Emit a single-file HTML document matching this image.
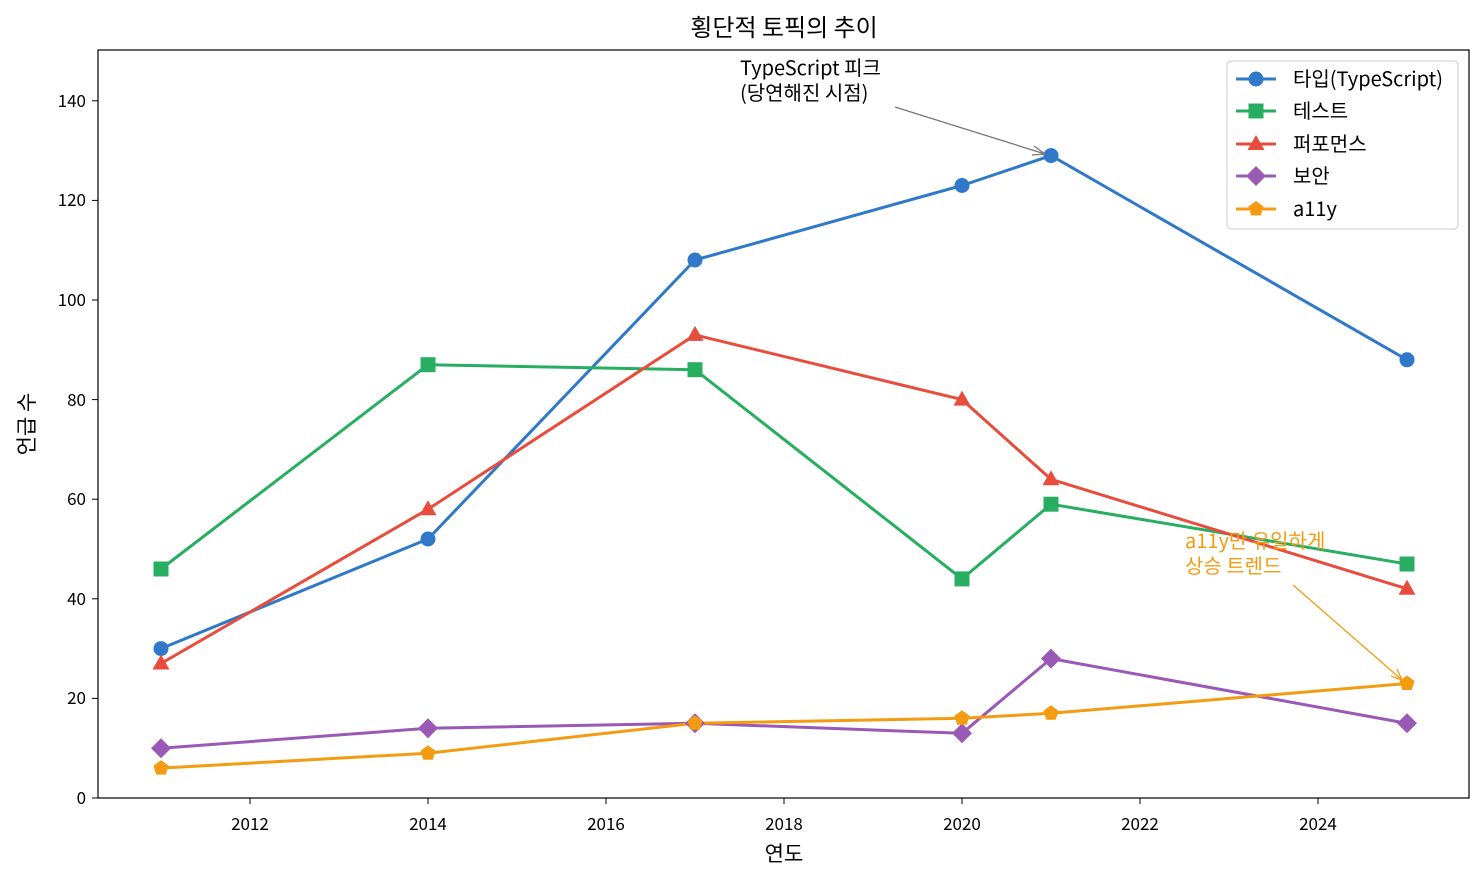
<!DOCTYPE html>
<html><head><meta charset="utf-8"><style>
body{margin:0;background:#fff}
svg text{font-family:"Noto Sans CJK KR","Liberation Sans",sans-serif}
</style></head><body>
<svg width="1484" height="884" xmlns="http://www.w3.org/2000/svg">
<defs>
<g id="mc"><circle r="7.5"/></g>
<g id="ms"><rect x="-7.5" y="-7.5" width="15" height="15"/></g>
<g id="mt"><polygon points="0,-9 8.5,6 -8.5,6"/></g>
<g id="md"><polygon points="0,-10 10,0 0,10 -10,0"/></g>
<g id="mp"><polygon points="0,-8 7.6,-2.5 4.7,6.5 -4.7,6.5 -7.6,-2.5"/></g>
</defs>
<rect x="98" y="50" width="1371" height="748" fill="none" stroke="#000" stroke-width="1.2"/>
<text x="784" y="36" font-size="24" text-anchor="middle">횡단적 토픽의 추이</text>
<g font-size="17" text-anchor="middle">
<line x1="250" y1="798" x2="250" y2="804" stroke="#000"/><text x="250" y="830">2012</text>
<line x1="428" y1="798" x2="428" y2="804" stroke="#000"/><text x="428" y="830">2014</text>
<line x1="606" y1="798" x2="606" y2="804" stroke="#000"/><text x="606" y="830">2016</text>
<line x1="784" y1="798" x2="784" y2="804" stroke="#000"/><text x="784" y="830">2018</text>
<line x1="962" y1="798" x2="962" y2="804" stroke="#000"/><text x="962" y="830">2020</text>
<line x1="1140" y1="798" x2="1140" y2="804" stroke="#000"/><text x="1140" y="830">2022</text>
<line x1="1318" y1="798" x2="1318" y2="804" stroke="#000"/><text x="1318" y="830">2024</text>
</g>
<text x="784" y="861" font-size="21" text-anchor="middle">연도</text>
<g font-size="17" text-anchor="end">
<line x1="92" y1="798" x2="98" y2="798" stroke="#000"/><text x="86" y="804">0</text>
<line x1="92" y1="698.4" x2="98" y2="698.4" stroke="#000"/><text x="86" y="704">20</text>
<line x1="92" y1="598.8" x2="98" y2="598.8" stroke="#000"/><text x="86" y="605">40</text>
<line x1="92" y1="499.2" x2="98" y2="499.2" stroke="#000"/><text x="86" y="505">60</text>
<line x1="92" y1="399.6" x2="98" y2="399.6" stroke="#000"/><text x="86" y="406">80</text>
<line x1="92" y1="300" x2="98" y2="300" stroke="#000"/><text x="86" y="306">100</text>
<line x1="92" y1="200.4" x2="98" y2="200.4" stroke="#000"/><text x="86" y="206">120</text>
<line x1="92" y1="100.8" x2="98" y2="100.8" stroke="#000"/><text x="86" y="107">140</text>
</g>
<text transform="translate(34,424) rotate(-90)" font-size="21" text-anchor="middle">언급 수</text>
<g fill="none" stroke-width="3" stroke-linejoin="round">
<polyline stroke="#3078c8" points="161,648.6 428,539 695,260 962,185.5 1051,155.6 1407,359.8"/>
<polyline stroke="#27ae60" points="161,569 428,364.7 695,369.7 962,578.9 1051,504.2 1407,564"/>
<polyline stroke="#e74c3c" points="161,663.5 428,509.2 695,334.9 962,399.6 1051,479.3 1407,588.8"/>
<polyline stroke="#9b59b6" points="161,748.2 428,728.3 695,723.3 962,733.3 1051,658.6 1407,723.3"/>
<polyline stroke="#f39c12" points="161,768.1 428,753.2 695,723.3 962,718.3 1051,713.3 1407,683.5"/>
</g>
<g fill="#3078c8"><use href="#mc" x="161" y="648.6"/><use href="#mc" x="428" y="539"/><use href="#mc" x="695" y="260"/><use href="#mc" x="962" y="185.5"/><use href="#mc" x="1051" y="155.6"/><use href="#mc" x="1407" y="359.8"/></g>
<g fill="#27ae60"><use href="#ms" x="161" y="569"/><use href="#ms" x="428" y="364.7"/><use href="#ms" x="695" y="369.7"/><use href="#ms" x="962" y="578.9"/><use href="#ms" x="1051" y="504.2"/><use href="#ms" x="1407" y="564"/></g>
<g fill="#e74c3c"><use href="#mt" x="161" y="663.5"/><use href="#mt" x="428" y="509.2"/><use href="#mt" x="695" y="334.9"/><use href="#mt" x="962" y="399.6"/><use href="#mt" x="1051" y="479.3"/><use href="#mt" x="1407" y="588.8"/></g>
<g fill="#9b59b6"><use href="#md" x="161" y="748.2"/><use href="#md" x="428" y="728.3"/><use href="#md" x="695" y="723.3"/><use href="#md" x="962" y="733.3"/><use href="#md" x="1051" y="658.6"/><use href="#md" x="1407" y="723.3"/></g>
<g fill="#f39c12"><use href="#mp" x="161" y="768.1"/><use href="#mp" x="428" y="753.2"/><use href="#mp" x="695" y="723.3"/><use href="#mp" x="962" y="718.3"/><use href="#mp" x="1051" y="713.3"/><use href="#mp" x="1407" y="683.5"/></g>
<text x="740" y="75" font-size="20">TypeScript 피크</text>
<text x="740" y="100" font-size="20">(당연해진 시점)</text>
<line x1="895" y1="107" x2="1045" y2="154" stroke="#777" stroke-width="1.3"/>
<polyline points="1034,146 1045,154 1032,155" fill="none" stroke="#777" stroke-width="1.3"/>
<text x="1185" y="548" font-size="20" fill="#f39c12">a11y만 유일하게</text>
<text x="1185" y="573" font-size="20" fill="#f39c12">상승 트렌드</text>
<line x1="1293" y1="585" x2="1402" y2="680" stroke="#f39c12" stroke-width="1.3"/>
<polyline points="1391,676 1402,680 1397,669" fill="none" stroke="#f39c12" stroke-width="1.3"/>
<rect x="1227" y="61" width="231" height="168" rx="4" fill="#fff" fill-opacity="0.8" stroke="#ccc"/>
<g stroke-width="3">
<line x1="1236" y1="79" x2="1276" y2="79" stroke="#3078c8"/><use href="#mc" x="1256" y="79" fill="#3078c8"/>
<line x1="1236" y1="111" x2="1276" y2="111" stroke="#27ae60"/><use href="#ms" x="1256" y="111" fill="#27ae60"/>
<line x1="1236" y1="144" x2="1276" y2="144" stroke="#e74c3c"/><use href="#mt" x="1256" y="144" fill="#e74c3c"/>
<line x1="1236" y1="176" x2="1276" y2="176" stroke="#9b59b6"/><use href="#md" x="1256" y="176" fill="#9b59b6"/>
<line x1="1236" y1="209" x2="1276" y2="209" stroke="#f39c12"/><use href="#mp" x="1256" y="209" fill="#f39c12"/>
</g>
<g font-size="20">
<text x="1293" y="86">타입(TypeScript)</text>
<text x="1293" y="118">테스트</text>
<text x="1293" y="151">퍼포먼스</text>
<text x="1293" y="183">보안</text>
<text x="1293" y="216">a11y</text>
</g>
</svg>
</body></html>
